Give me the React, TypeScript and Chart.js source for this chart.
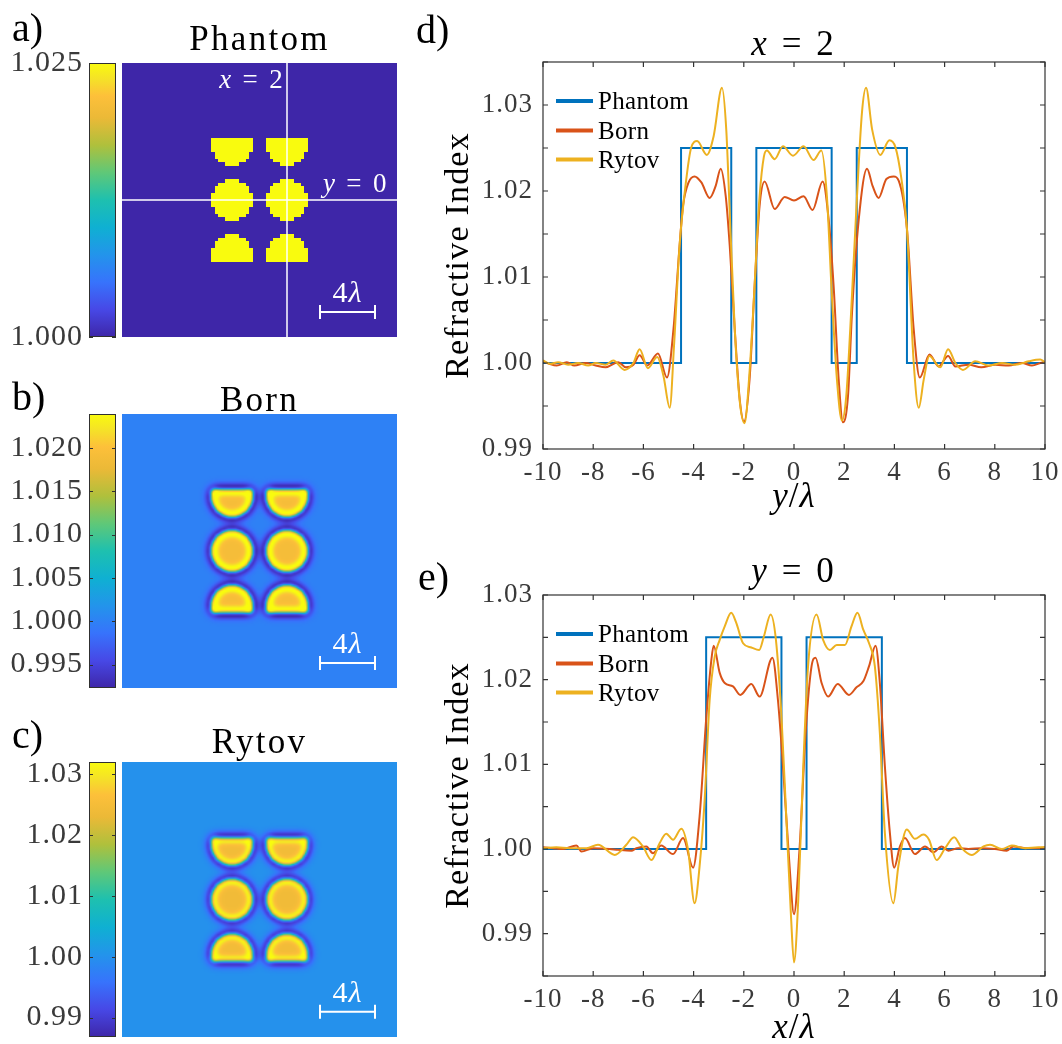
import { useEffect, useRef } from 'react';
import { Chart, registerables } from 'chart.js';

Chart.register(...registerables);

type Pair = [number, number];
type Run = [string, boolean];

const SERIF = '"Liberation Serif", "Times New Roman", serif';
const INK = '#000000';
const AXIS_INK = '#3a3a3a';

// ---------- profile plots (d, e) ----------
const seriesNames = ['Phantom', 'Born', 'Rytov'];
const seriesColors = ['#0072BD', '#D95319', '#EDB120'];

const profileTicksX = [-10, -8, -6, -4, -2, 0, 2, 4, 6, 8, 10];
const profileTicksYD = [0.99, 0.995, 1.0, 1.005, 1.01, 1.015, 1.02, 1.025, 1.03, 1.035];
const profileTicksYE = [0.985, 0.99, 0.995, 1.0, 1.005, 1.01, 1.015, 1.02, 1.025, 1.03];
const profileRangeD: Pair = [0.99, 1.035];
const profileRangeE: Pair = [0.985, 1.03];

// d) cut along x = 2 (abscissa y/λ)
const phantomD: Pair[] = [
  [-10, 1], [-4.5, 1], [-4.5, 1.025], [-2.5, 1.025], [-2.5, 1], [-1.5, 1], [-1.5, 1.025],
  [1.5, 1.025], [1.5, 1], [2.5, 1], [2.5, 1.025], [4.5, 1.025], [4.5, 1], [10, 1],
];
const bornD: Pair[] = [
  [-10, 1.0002], [-9.75, 0.9999], [-9.45, 0.9997], [-9.05, 1.0001], [-8.75, 0.9997], [-8.3, 1.0],
  [-7.9, 0.9997], [-7.5, 0.9995], [-7.0, 1.0001], [-6.7, 0.9995], [-6.4, 0.9998], [-6.15, 1.0009],
  [-5.85, 0.9997], [-5.42, 1.0011], [-5.06, 0.9983], [-4.8, 1.004], [-4.56, 1.0136], [-4.42, 1.0183],
  [-4.2, 1.021], [-3.96, 1.0217], [-3.69, 1.021], [-3.36, 1.0192], [-3.12, 1.0206], [-2.92, 1.0226],
  [-2.72, 1.0194], [-2.56, 1.0136], [-2.36, 1.0039], [-2.16, 0.9957], [-1.99, 0.9932], [-1.77, 0.9981],
  [-1.57, 1.0089], [-1.37, 1.0183], [-1.17, 1.0211], [-0.77, 1.0179], [-0.37, 1.0193], [0.0, 1.0189],
  [0.38, 1.0194], [0.74, 1.0178], [1.14, 1.0211], [1.38, 1.0167], [1.58, 1.0089], [1.78, 0.9981],
  [1.95, 0.9931], [2.15, 0.9961], [2.31, 1.0058], [2.58, 1.0167], [2.91, 1.0226], [3.13, 1.0206],
  [3.37, 1.0192], [3.68, 1.0214], [3.97, 1.0217], [4.17, 1.0212], [4.5, 1.0156], [4.77, 1.0039],
  [5.01, 0.9983], [5.4, 1.001], [5.76, 0.9996], [6.14, 1.0008], [6.43, 0.9996], [6.96, 0.9998],
  [7.46, 0.9995], [8.02, 0.9998], [8.55, 0.9997], [9.08, 1.0], [9.48, 0.9997], [9.95, 1.0001], [10, 1.0001],
];
const rytovD: Pair[] = [
  [-10, 1.0003], [-9.7, 0.9999], [-9.4, 1.0001], [-9.0, 0.9998], [-8.6, 1.0], [-8.2, 0.9997],
  [-7.9, 1.0], [-7.5, 0.9998], [-7.2, 1.0003], [-6.75, 0.9992], [-6.4, 1.0], [-6.15, 1.0016],
  [-5.82, 0.9994], [-5.45, 1.0007], [-5.2, 0.9985], [-4.95, 0.9948], [-4.78, 1.002], [-4.56, 1.0136],
  [-4.29, 1.0214], [-4.1, 1.025], [-3.86, 1.0258], [-3.47, 1.0242], [-3.2, 1.0264], [-2.87, 1.032],
  [-2.7, 1.0272], [-2.56, 1.0175], [-2.36, 1.0039], [-2.16, 0.9955], [-1.97, 0.993], [-1.77, 0.999],
  [-1.63, 1.0058], [-1.37, 1.0194], [-1.2, 1.024], [-1.08, 1.0247], [-0.77, 1.0237], [-0.44, 1.0252],
  [-0.04, 1.0241], [0.38, 1.0252], [0.78, 1.0236], [1.09, 1.0247], [1.31, 1.0194], [1.51, 1.0078],
  [1.71, 0.9981], [1.91, 0.9933], [2.08, 0.9961], [2.24, 1.0039], [2.51, 1.0194], [2.71, 1.0292],
  [2.87, 1.032], [3.11, 1.0272], [3.44, 1.0242], [3.8, 1.0259], [4.04, 1.0251], [4.28, 1.0214],
  [4.5, 1.0156], [4.77, 1.0], [4.97, 0.9948], [5.17, 0.9981], [5.39, 1.0008], [5.83, 0.9995],
  [6.14, 1.0016], [6.43, 1.0], [6.73, 0.9992], [7.22, 1.0002], [7.75, 0.9997], [8.29, 1.0],
  [8.82, 0.9998], [9.35, 1.0002], [9.81, 1.0004], [10, 1.0001],
];

// e) cut along y = 0 (abscissa x/λ)
const phantomE: Pair[] = [
  [-10, 1], [-3.5, 1], [-3.5, 1.025], [-0.5, 1.025], [-0.5, 1], [0.5, 1], [0.5, 1.025],
  [3.5, 1.025], [3.5, 1], [10, 1],
];
const bornE: Pair[] = [
  [-10, 1.0002], [-9.6, 1.0001], [-9.2, 1.0], [-8.67, 1.0004], [-8.47, 0.9997], [-8.0, 1.0001],
  [-7.34, 1.0], [-7.01, 0.9999], [-6.48, 0.9998], [-6.28, 1.0001], [-5.88, 1.0003], [-5.62, 0.9995],
  [-5.29, 1.0004], [-4.82, 0.9994], [-4.42, 1.0013], [-4.02, 0.9978], [-3.76, 1.0039], [-3.49, 1.0157],
  [-3.29, 1.0224], [-3.2, 1.024], [-2.96, 1.0208], [-2.76, 1.0196], [-2.43, 1.0192], [-2.14, 1.0182],
  [-1.7, 1.0195], [-1.37, 1.018], [-0.86, 1.0226], [-0.64, 1.0176], [-0.44, 1.0098], [-0.2, 0.999],
  [0.0, 0.9923], [0.22, 1.0], [0.47, 1.014], [0.7, 1.0216], [0.86, 1.0226], [1.1, 1.0196],
  [1.36, 1.018], [1.74, 1.0195], [2.19, 1.0182], [2.49, 1.0191], [2.76, 1.0198], [2.99, 1.0216],
  [3.25, 1.024], [3.42, 1.0196], [3.62, 1.0098], [3.82, 1.0019], [3.99, 0.9978], [4.22, 1.0003],
  [4.42, 1.0013], [4.82, 0.9994], [5.22, 1.0003], [5.55, 0.9996], [5.88, 1.0003], [6.15, 0.9998],
  [6.55, 1.0001], [6.95, 1.0], [7.48, 1.0001], [8.01, 1.0], [8.48, 0.9998], [8.74, 1.0003],
  [9.21, 1.0001], [9.74, 1.0001], [10, 1.0002],
];
const rytovE: Pair[] = [
  [-10, 1.0001], [-9.47, 1.0002], [-8.94, 1.0001], [-8.27, 1.0001], [-7.81, 1.0005], [-7.14, 0.9993],
  [-6.68, 1.0005], [-6.41, 1.0014], [-6.02, 1.0003], [-5.68, 0.9987], [-5.35, 1.0007], [-5.09, 1.0018],
  [-4.82, 1.0011], [-4.49, 1.0024], [-4.22, 0.9999], [-3.96, 0.9936], [-3.76, 0.998], [-3.56, 1.0058],
  [-3.36, 1.0176], [-3.16, 1.0227], [-2.96, 1.0247], [-2.76, 1.0263], [-2.5, 1.0279], [-2.3, 1.0267],
  [-2.03, 1.0243], [-1.7, 1.0238], [-1.39, 1.0235], [-1.2, 1.0251], [-0.93, 1.0277], [-0.72, 1.0247],
  [-0.5, 1.0157], [-0.31, 1.0039], [-0.12, 0.9921], [0.0, 0.9866], [0.17, 0.994], [0.37, 1.0098],
  [0.56, 1.0216], [0.9, 1.0277], [1.16, 1.0247], [1.43, 1.0235], [1.7, 1.0241], [2.03, 1.0241],
  [2.29, 1.0263], [2.53, 1.0279], [2.76, 1.0259], [2.99, 1.0243], [3.22, 1.0216], [3.42, 1.0137],
  [3.62, 1.0019], [3.96, 0.9936], [4.16, 0.998], [4.49, 1.0023], [4.82, 1.0012], [5.15, 1.0017],
  [5.38, 1.0011], [5.68, 0.9987], [6.02, 1.0001], [6.38, 1.0014], [6.68, 1.0001], [7.08, 0.9993],
  [7.55, 1.0003], [7.81, 1.0005], [8.28, 1.0], [8.68, 1.0004], [9.21, 1.0001], [9.74, 1.0002], [10, 1.0002],
];

// ---------- refractive-index maps (a, b, c) ----------
const fieldExtent: Pair = [-10, 10];
// inclusions: centre x, centre y, radius, lower y cut, upper y cut (all in λ)
const inclusionShapes: number[][] = [
  [-2, 0, 1.5, -99, 99],
  [2, 0, 1.5, -99, 99],
  [-2, 4, 1.5, -99, 4.5],
  [2, 4, 1.5, -99, 4.5],
  [-2, -4, 1.5, -4.5, 99],
  [2, -4, 1.5, -4.5, 99],
];
const indexLevels: Pair = [1.0, 1.025];
// reconstructions: narrow / wide Gaussian widths (λ) of the inclusion map and the
// weights of narrow blur, wide blur and the outside halo term
const bornBlurWidths = [0.15, 0.35];
const bornBlurWeights = [0.05, -0.031, -0.009];
const rytovBlurWidths = [0.15, 0.35];
const rytovBlurWeights = [0.0621, -0.038, -0.021];

const cbRangeA: Pair = [1.0, 1.025];
const cbTicksA = [1.0, 1.025];
const cbLabelsA = ['1.000', '1.025'];
const cbRangeB: Pair = [0.9923, 1.0239];
const cbTicksB = [0.995, 1.0, 1.005, 1.01, 1.015, 1.02];
const cbLabelsB = ['0.995', '1.000', '1.005', '1.010', '1.015', '1.020'];
const cbRangeC: Pair = [0.9868, 1.032];
const cbTicksC = [0.99, 1.0, 1.01, 1.02, 1.03];
const cbLabelsC = ['0.99', '1.00', '1.01', '1.02', '1.03'];

// parula colour stops: position, r, g, b
const parulaStops: number[][] = [
  [0.0, 62, 38, 168],
  [0.1, 71, 72, 230],
  [0.2, 55, 115, 252],
  [0.3, 35, 148, 235],
  [0.4, 15, 176, 210],
  [0.5, 30, 192, 175],
  [0.6, 95, 200, 120],
  [0.7, 175, 192, 60],
  [0.8, 235, 185, 55],
  [0.88, 253, 192, 58],
  [0.94, 245, 225, 40],
  [1.0, 249, 251, 14],
];

function parula(t: number): number[] {
  const u = Math.max(0, Math.min(1, t));
  for (let k = 1; k < parulaStops.length; k++) {
    const a = parulaStops[k - 1];
    const b = parulaStops[k];
    if (u <= b[0]) {
      const f = (u - a[0]) / (b[0] - a[0]);
      return [a[1] + f * (b[1] - a[1]), a[2] + f * (b[2] - a[2]), a[3] + f * (b[3] - a[3])];
    }
  }
  const l = parulaStops[parulaStops.length - 1];
  return [l[1], l[2], l[3]];
}

function inclusionMask(n: number): Float32Array {
  const [lo, hi] = fieldExtent;
  const step = (hi - lo) / n;
  const m = new Float32Array(n * n);
  for (let j = 0; j < n; j++) {
    const y = hi - (j + 0.5) * step;
    for (let i = 0; i < n; i++) {
      const x = lo + (i + 0.5) * step;
      for (const [cx, cy, r, ylo, yhi] of inclusionShapes) {
        if (y > ylo && y < yhi && (x - cx) ** 2 + (y - cy) ** 2 < r * r) {
          m[j * n + i] = 1;
          break;
        }
      }
    }
  }
  return m;
}

function gaussianBlur(src: Float32Array, n: number, sigma: number): Float32Array {
  const rad = Math.ceil(3 * sigma);
  const kern: number[] = [];
  let sum = 0;
  for (let t = -rad; t <= rad; t++) {
    const w = Math.exp(-(t * t) / (2 * sigma * sigma));
    kern.push(w);
    sum += w;
  }
  for (let t = 0; t < kern.length; t++) kern[t] /= sum;
  const tmp = new Float32Array(n * n);
  const out = new Float32Array(n * n);
  for (let j = 0; j < n; j++) {
    for (let i = 0; i < n; i++) {
      let s = 0;
      for (let t = -rad; t <= rad; t++) {
        const ii = i + t;
        if (ii >= 0 && ii < n) s += kern[t + rad] * src[j * n + ii];
      }
      tmp[j * n + i] = s;
    }
  }
  for (let j = 0; j < n; j++) {
    for (let i = 0; i < n; i++) {
      let s = 0;
      for (let t = -rad; t <= rad; t++) {
        const jj = j + t;
        if (jj >= 0 && jj < n) s += kern[t + rad] * tmp[jj * n + i];
      }
      out[j * n + i] = s;
    }
  }
  return out;
}

function phantomField(n: number): Float32Array {
  const m = inclusionMask(n);
  const out = new Float32Array(n * n);
  for (let k = 0; k < n * n; k++) out[k] = indexLevels[0] + m[k] * (indexLevels[1] - indexLevels[0]);
  return out;
}

function reconstructedField(n: number, widths: number[], weights: number[]): Float32Array {
  const m = inclusionMask(n);
  const step = (fieldExtent[1] - fieldExtent[0]) / n;
  const narrow = gaussianBlur(m, n, widths[0] / step);
  const wide = gaussianBlur(m, n, widths[1] / step);
  const out = new Float32Array(n * n);
  for (let p = 0; p < n * n; p++) {
    out[p] = indexLevels[0] + weights[0] * narrow[p] + weights[1] * wide[p] + weights[2] * wide[p] * (1 - narrow[p]);
  }
  return out;
}

function fieldCanvas(values: Float32Array, n: number, range: Pair): HTMLCanvasElement {
  const c = document.createElement('canvas');
  c.width = n;
  c.height = n;
  const g = c.getContext('2d')!;
  const im = g.createImageData(n, n);
  for (let k = 0; k < n * n; k++) {
    const rgb = parula((values[k] - range[0]) / (range[1] - range[0]));
    im.data[4 * k] = rgb[0];
    im.data[4 * k + 1] = rgb[1];
    im.data[4 * k + 2] = rgb[2];
    im.data[4 * k + 3] = 255;
  }
  g.putImageData(im, 0, 0);
  return c;
}

function drawRuns(
  ctx: CanvasRenderingContext2D, runs: Run[], x: number, y: number, size: number,
  color: string, align: string, spacing: number,
) {
  ctx.save();
  (ctx as any).letterSpacing = spacing + 'px';
  ctx.fillStyle = color;
  ctx.textBaseline = 'alphabetic';
  ctx.textAlign = 'left';
  const font = (it: boolean) => `${it ? 'italic ' : ''}${size}px ${SERIF}`;
  let total = 0;
  const widths = runs.map(([t, it]) => {
    ctx.font = font(it);
    const w = ctx.measureText(t).width;
    total += w;
    return w;
  });
  let cx = align === 'left' ? x : align === 'center' ? x - total / 2 : x - total;
  runs.forEach(([t, it], k) => {
    ctx.font = font(it);
    ctx.fillText(t, cx, y);
    cx += widths[k];
  });
  ctx.restore();
}

// ---------- chart builders ----------
interface HeatSpec {
  letter: string; letterBaseline: number; title: string; titleGap: number;
  padTop: number; padBottom: number; range: Pair; ticks: number[]; labels: string[];
  kind: 'phantom' | 'born' | 'rytov';
}

function heatChart(canvas: HTMLCanvasElement, spec: HeatSpec) {
  let image: HTMLCanvasElement | null = null;
  const plugin = {
    id: 'indexMap',
    beforeDraw(chart: any) {
      chart.ctx.letterSpacing = '1px';
    },
    beforeDatasetsDraw(chart: any) {
      const { ctx, chartArea: a, scales } = chart;
      if (!image) {
        if (spec.kind === 'phantom') image = fieldCanvas(phantomField(80), 80, spec.range);
        else if (spec.kind === 'born') image = fieldCanvas(reconstructedField(200, bornBlurWidths, bornBlurWeights), 200, spec.range);
        else image = fieldCanvas(reconstructedField(200, rytovBlurWidths, rytovBlurWeights), 200, spec.range);
      }
      const x0 = scales.x.getPixelForValue(fieldExtent[0]);
      const x1 = scales.x.getPixelForValue(fieldExtent[1]);
      const y0 = scales.y.getPixelForValue(fieldExtent[1]);
      const y1 = scales.y.getPixelForValue(fieldExtent[0]);
      ctx.save();
      ctx.imageSmoothingEnabled = spec.kind !== 'phantom';
      ctx.drawImage(image, x0, y0, x1 - x0, y1 - y0);
      ctx.restore();

      // colour bar
      const cb = scales.cb;
      const top = cb.getPixelForValue(spec.range[1]);
      const bottom = cb.getPixelForValue(spec.range[0]);
      const bl = a.left - 33;
      const bw = 27;
      const grad = ctx.createLinearGradient(0, bottom, 0, top);
      parulaStops.forEach((s) => grad.addColorStop(s[0], `rgb(${s[1]},${s[2]},${s[3]})`));
      ctx.save();
      ctx.fillStyle = grad;
      ctx.fillRect(bl, top, bw, bottom - top);
      ctx.strokeStyle = '#303030';
      ctx.lineWidth = 1;
      ctx.strokeRect(bl + 0.5, top + 0.5, bw - 1, bottom - top - 1);
      ctx.beginPath();
      for (const v of spec.ticks) {
        const py = Math.round(cb.getPixelForValue(v)) + 0.5;
        ctx.moveTo(bl, py);
        ctx.lineTo(bl + 4, py);
        ctx.moveTo(bl + bw, py);
        ctx.lineTo(bl + bw - 4, py);
      }
      ctx.stroke();
      ctx.restore();
    },
    afterDraw(chart: any) {
      const { ctx, chartArea: a, scales } = chart;
      const sx = (v: number) => scales.x.getPixelForValue(v);
      const sy = (v: number) => scales.y.getPixelForValue(v);
      ctx.save();
      ctx.strokeStyle = '#ffffff';
      if (spec.kind === 'phantom') {
        ctx.lineWidth = 1.5;
        ctx.beginPath();
        ctx.moveTo(sx(2), sy(10));
        ctx.lineTo(sx(2), sy(-10));
        ctx.moveTo(sx(-10), sy(0));
        ctx.lineTo(sx(10), sy(0));
        ctx.stroke();
        drawRuns(ctx, [['x', true], [' = 2', false]], sx(1.85), sy(8.15), 27, '#ffffff', 'right', 2.3);
        drawRuns(ctx, [['y', true], [' = 0', false]], sx(4.62), sy(0.6), 27, '#ffffff', 'left', 2.3);
      }
      // 4λ scale bar
      ctx.lineWidth = 2;
      ctx.beginPath();
      ctx.moveTo(sx(4.4), sy(-8.17));
      ctx.lineTo(sx(8.4), sy(-8.17));
      ctx.moveTo(sx(4.4), sy(-8.17) - 7);
      ctx.lineTo(sx(4.4), sy(-8.17) + 7);
      ctx.moveTo(sx(8.4), sy(-8.17) - 7);
      ctx.lineTo(sx(8.4), sy(-8.17) + 7);
      ctx.stroke();
      ctx.restore();
      drawRuns(ctx, [['4', false], ['λ', true]], sx(6.4), sy(-7.42), 30, '#ffffff', 'center', 1);

      drawRuns(ctx, [[spec.title, false]], (a.left + a.right) / 2, a.top - spec.titleGap, 35, INK, 'center', 2.3);
      drawRuns(ctx, [[spec.letter, false]], 12, spec.letterBaseline, 40, INK, 'left', 0);
    },
  };
  return new Chart(canvas, {
    type: 'scatter',
    data: { datasets: [] },
    options: {
      animation: false,
      responsive: false,
      devicePixelRatio: 1,
      events: [],
      layout: { padding: { top: spec.padTop, right: 3, bottom: spec.padBottom, left: 0 } },
      plugins: { legend: { display: false }, tooltip: { enabled: false }, title: { display: false } },
      scales: {
        x: { type: 'linear', min: fieldExtent[0], max: fieldExtent[1], display: false },
        y: { type: 'linear', min: fieldExtent[0], max: fieldExtent[1], display: false },
        cb: {
          type: 'linear', axis: 'y', position: 'left', min: spec.range[0], max: spec.range[1],
          grid: { display: false, drawTicks: false }, border: { display: false },
          afterBuildTicks: (s: any) => { s.ticks = spec.ticks.map((v) => ({ value: v })); },
          afterFit: (s: any) => { s.width = 122; s.paddingTop = 0; s.paddingBottom = 0; },
          ticks: {
            font: { family: SERIF, size: 30 }, color: AXIS_INK, padding: 39, autoSkip: false,
            callback: (_v: any, i: number) => spec.labels[i],
          },
        },
      },
    } as any,
    plugins: [plugin as any],
  });
}

interface ProfileSpec {
  letter: string; letterX: number; letterBaseline: number;
  title: Run[]; titleGap: number; xTitle: Run[]; xTitleGap: number;
  padTop: number; xHeight: number; range: Pair; yTicks: number[];
  phantom: Pair[]; born: Pair[]; rytov: Pair[];
}

const legendRows = [39, 68.5, 97.5];

function profileChart(canvas: HTMLCanvasElement, spec: ProfileSpec) {
  const plugin = {
    id: 'profileFrame',
    beforeDraw(chart: any) {
      chart.ctx.letterSpacing = '1px';
    },
    afterDatasetsDraw(chart: any) {
      const { ctx, chartArea: a, scales } = chart;
      ctx.save();
      ctx.strokeStyle = '#333333';
      ctx.lineWidth = 1.2;
      ctx.strokeRect(a.left, a.top, a.right - a.left, a.bottom - a.top);
      ctx.beginPath();
      for (const v of profileTicksX) {
        const px = scales.x.getPixelForValue(v);
        ctx.moveTo(px, a.bottom);
        ctx.lineTo(px, a.bottom - 5);
        ctx.moveTo(px, a.top);
        ctx.lineTo(px, a.top + 5);
      }
      for (const v of spec.yTicks) {
        const py = scales.y.getPixelForValue(v);
        ctx.moveTo(a.left, py);
        ctx.lineTo(a.left + 5, py);
        ctx.moveTo(a.right, py);
        ctx.lineTo(a.right - 5, py);
      }
      ctx.stroke();
      chart.data.datasets.forEach((ds: any, k: number) => {
        const yy = a.top + legendRows[k];
        ctx.strokeStyle = ds.borderColor;
        ctx.lineWidth = 4;
        ctx.lineCap = 'butt';
        ctx.beginPath();
        ctx.moveTo(a.left + 13, yy);
        ctx.lineTo(a.left + 50, yy);
        ctx.stroke();
        drawRuns(ctx, [[ds.label, false]], a.left + 55, yy + 8, 25, INK, 'left', 0.3);
      });
      ctx.restore();
    },
    afterDraw(chart: any) {
      const { ctx, chartArea: a } = chart;
      const cx = (a.left + a.right) / 2;
      drawRuns(ctx, spec.title, cx, a.top - spec.titleGap, 35, INK, 'center', 3);
      drawRuns(ctx, spec.xTitle, cx, a.bottom + spec.xTitleGap, 35, INK, 'center', 1);
      ctx.save();
      ctx.translate(68, (a.top + a.bottom) / 2);
      ctx.rotate(-Math.PI / 2);
      drawRuns(ctx, [['Refractive Index', false]], 0, 0, 34, INK, 'center', 1.2);
      ctx.restore();
      drawRuns(ctx, [[spec.letter, false]], spec.letterX, spec.letterBaseline, 40, INK, 'left', 0);
    },
  };
  const series = [spec.phantom, spec.born, spec.rytov];
  return new Chart(canvas, {
    type: 'line',
    data: {
      datasets: series.map((s, k) => ({
        label: seriesNames[k],
        data: s.map(([x, y]) => ({ x, y })),
        borderColor: seriesColors[k],
        backgroundColor: seriesColors[k],
        borderWidth: 2,
        pointRadius: 0,
        fill: false,
        tension: 0,
        cubicInterpolationMode: k === 0 ? 'default' : 'monotone',
        order: 3 - k,
      })),
    },
    options: {
      animation: false,
      responsive: false,
      devicePixelRatio: 1,
      events: [],
      layout: { padding: { top: spec.padTop, right: 17, bottom: 0, left: 0 } },
      plugins: { legend: { display: false }, tooltip: { enabled: false }, title: { display: false } },
      scales: {
        x: {
          type: 'linear', min: -10, max: 10,
          grid: { display: false, drawTicks: false }, border: { display: false },
          afterBuildTicks: (s: any) => { s.ticks = profileTicksX.map((v) => ({ value: v })); },
          afterFit: (s: any) => { s.height = spec.xHeight; s.paddingLeft = 0; s.paddingRight = 0; },
          ticks: {
            font: { family: SERIF, size: 27 }, color: AXIS_INK, padding: 8, maxRotation: 0, autoSkip: false,
            callback: (v: any) => String(v),
          },
        },
        y: {
          type: 'linear', min: spec.range[0], max: spec.range[1],
          grid: { display: false, drawTicks: false }, border: { display: false },
          afterBuildTicks: (s: any) => { s.ticks = spec.yTicks.map((v) => ({ value: v })); },
          afterFit: (s: any) => { s.width = 143; s.paddingTop = 0; s.paddingBottom = 0; },
          ticks: {
            font: { family: SERIF, size: 27 }, color: AXIS_INK, padding: 10, autoSkip: false,
            callback: (v: any) => {
              const c = Number(v) * 100;
              return Math.abs(c - Math.round(c)) < 1e-6 ? Number(v).toFixed(2) : '';
            },
          },
        },
      },
    } as any,
    plugins: [plugin as any],
  });
}

const frames = [
  { x: 0, y: 0, w: 400, h: 350 },
  { x: 0, y: 350, w: 400, h: 350 },
  { x: 0, y: 700, w: 400, h: 344 },
  { x: 400, y: 0, w: 662, h: 520 },
  { x: 400, y: 520, w: 662, h: 524 },
];

export default function App() {
  const r0 = useRef<HTMLCanvasElement>(null);
  const r1 = useRef<HTMLCanvasElement>(null);
  const r2 = useRef<HTMLCanvasElement>(null);
  const r3 = useRef<HTMLCanvasElement>(null);
  const r4 = useRef<HTMLCanvasElement>(null);
  const refs = [r0, r1, r2, r3, r4];

  useEffect(() => {
    const charts: Chart[] = [];
    charts.push(heatChart(r0.current!, {
      letter: 'a)', letterBaseline: 41, title: 'Phantom', titleGap: 13, padTop: 63, padBottom: 13,
      range: cbRangeA, ticks: cbTicksA, labels: cbLabelsA, kind: 'phantom',
    }));
    charts.push(heatChart(r1.current!, {
      letter: 'b)', letterBaseline: 60, title: 'Born', titleGap: 3, padTop: 64, padBottom: 12,
      range: cbRangeB, ticks: cbTicksB, labels: cbLabelsB, kind: 'born',
    }));
    charts.push(heatChart(r2.current!, {
      letter: 'c)', letterBaseline: 48, title: 'Rytov', titleGap: 9, padTop: 62, padBottom: 7,
      range: cbRangeC, ticks: cbTicksC, labels: cbLabelsC, kind: 'rytov',
    }));
    charts.push(profileChart(r3.current!, {
      letter: 'd)', letterX: 16, letterBaseline: 43,
      title: [['x', true], [' = 2', false]], titleGap: 7,
      xTitle: [['y', true], ['/', false], ['λ', true]], xTitleGap: 58,
      padTop: 62, xHeight: 71, range: profileRangeD, yTicks: profileTicksYD,
      phantom: phantomD, born: bornD, rytov: rytovD,
    }));
    charts.push(profileChart(r4.current!, {
      letter: 'e)', letterX: 18, letterBaseline: 70,
      title: [['y', true], [' = 0', false]], titleGap: 13,
      xTitle: [['x', true], ['/', false], ['λ', true]], xTitleGap: 62,
      padTop: 75, xHeight: 68, range: profileRangeE, yTicks: profileTicksYE,
      phantom: phantomE, born: bornE, rytov: rytovE,
    }));
    return () => charts.forEach((c) => c.destroy());
  }, []);

  return (
    <div style={{ position: 'absolute', left: 0, top: 0, width: 1062, height: 1044, background: '#ffffff', overflow: 'hidden' }}>
      {frames.map((f, i) => (
        <canvas
          key={i}
          ref={refs[i]}
          width={f.w}
          height={f.h}
          style={{ position: 'absolute', left: f.x, top: f.y, width: f.w, height: f.h }}
        />
      ))}
    </div>
  );
}
